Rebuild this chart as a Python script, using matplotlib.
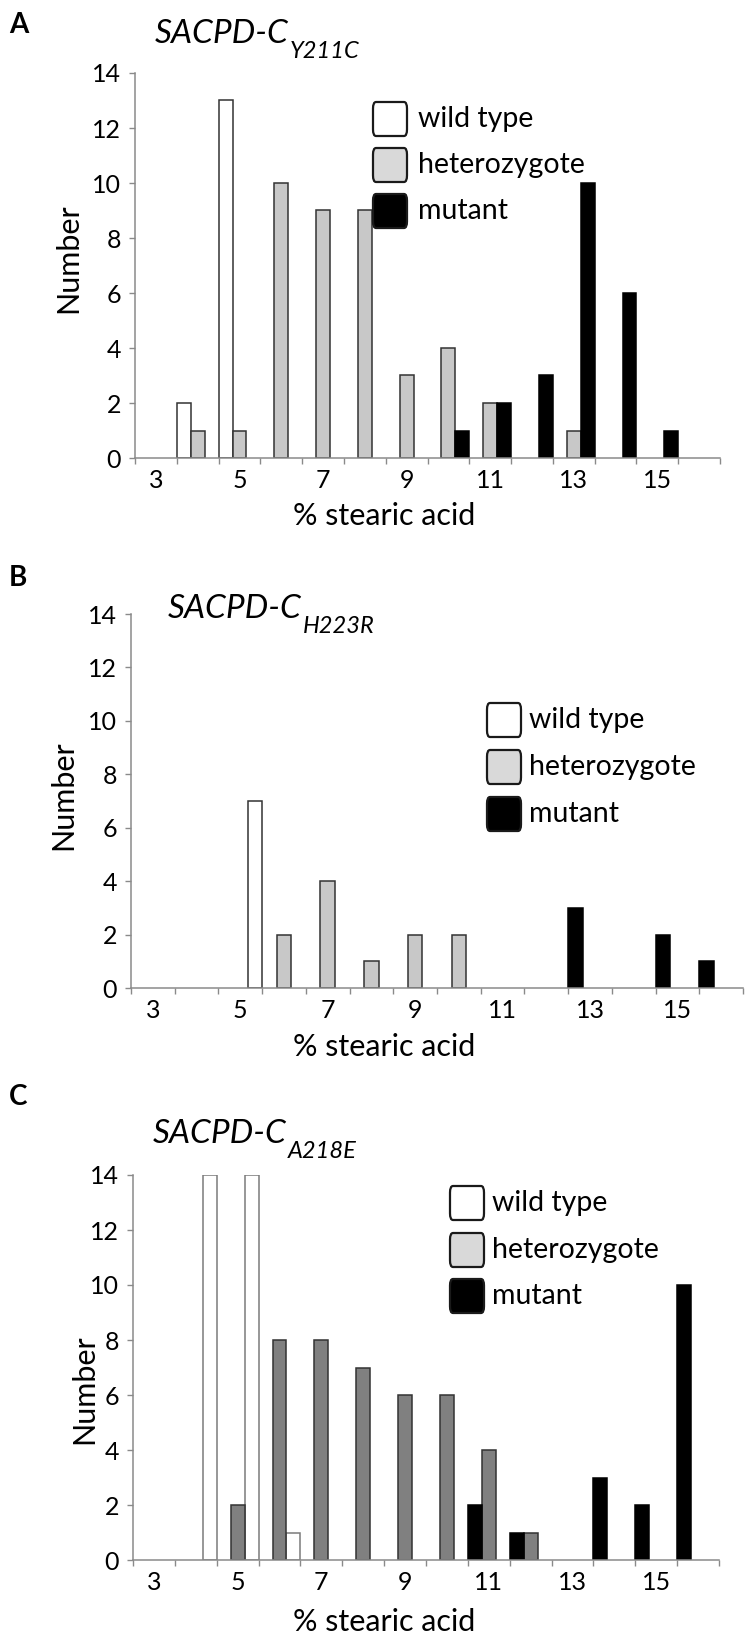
"""
Three stacked histograms: stearic acid content by genotype for three SACPD-C alleles
"""

import matplotlib.pyplot as plt
import numpy as np
from matplotlib.patches import FancyBboxPatch

plt.rcParams['font.family'] = ['Lato', 'DejaVu Sans']

W, H = 752, 1642

categories = list(range(3, 17))
tickValues = [3, 5, 7, 9, 11, 13, 15]
tickLabels = ['3', '5', '7', '9', '11', '13', '15']
legendLabels = ['wild type', 'heterozygote', 'mutant']

# panel A - Y211C
aWild = [0, 2, 13, 0, 0, 0, 0, 0, 0, 0, 0, 0, 0, 0]
aHet = [0, 1, 1, 10, 9, 9, 3, 4, 2, 0, 1, 0, 0, 0]
aMut = [0, 0, 0, 0, 0, 0, 0, 1, 2, 3, 10, 6, 1, 0]

# panel B - H223R
bWild = [0, 0, 7, 0, 0, 0, 0, 0, 0, 0, 0, 0, 0, 0]
bHet = [0, 0, 0, 2, 4, 1, 2, 2, 0, 0, 0, 0, 0, 0]
bMut = [0, 0, 0, 0, 0, 0, 0, 0, 0, 0, 3, 0, 2, 1]

# panel C - A218E
cWild = [0, 14, 14, 1, 0, 0, 0, 0, 0, 0, 0, 0, 0, 0]
cHet = [0, 0, 2, 8, 8, 7, 6, 6, 4, 1, 0, 0, 0, 0]
cMut = [0, 0, 0, 0, 0, 0, 0, 0, 2, 1, 0, 3, 2, 10]

AXIS_GRAY = '#8a8a8a'


def figX(x):
    return x / W


def figY(y):
    return 1 - y / H


def drawPanel(fig, box, series, slots, faces, edges):
    """
    Draws one clustered histogram
    :param box: left, top, right, bottom in pixels
    """
    left, top, right, bottom = box
    ax = fig.add_axes([figX(left), figY(bottom), (right - left) / W, (bottom - top) / H])
    x = np.array(categories)
    width = 1 / 3
    for values, slot, face, edge in zip(series, slots, faces, edges):
        values = np.array(values)
        keep = values > 0
        ax.bar(x[keep] + slot * width, values[keep], width=width, color=face,
               edgecolor=edge, linewidth=1.1, zorder=2)

    ax.set_xlim(2.5, 16.5)
    ax.set_ylim(0, 14)
    ax.set_yticks(range(0, 15, 2))
    ax.set_xticks(np.arange(2.5, 17, 1))
    ax.set_xticklabels([])
    ax.set_xticks(tickValues, minor=True)
    ax.set_xticklabels(tickLabels, minor=True)
    ax.tick_params(axis='x', which='major', length=4, width=1.0, color=AXIS_GRAY, direction='out')
    ax.tick_params(axis='x', which='minor', length=0, pad=8, labelsize=18)
    ax.tick_params(axis='y', length=4, width=1.0, color=AXIS_GRAY, pad=6, labelsize=18)
    for side in ['top', 'right']:
        ax.spines[side].set_visible(False)
    for side in ['left', 'bottom']:
        ax.spines[side].set_color(AXIS_GRAY)
        ax.spines[side].set_linewidth(1.1)
    ax.set_facecolor('none')
    return ax


def drawLegend(fig, left, tops, textX, faces):
    """
    Draws the legend boxes and their labels
    """
    size = 34
    for top, face, label in zip(tops, faces, legendLabels):
        patch = FancyBboxPatch((figX(left), figY(top + size)), size / W, size / H,
                               boxstyle='round,pad=0,rounding_size=0.004',
                               facecolor=face, edgecolor='#1a1a1a', linewidth=1.6,
                               transform=fig.transFigure)
        fig.add_artist(patch)
        fig.text(figX(textX), figY(top + size / 2), label, fontsize=20.5, va='center', ha='left')


fig = plt.figure(figsize=(W / 100, H / 100), dpi=100)

lightHet = '#c8c8c8'
darkHet = '#808080'
legendFaces = ['white', '#d9d9d9', 'black']

# panel A
drawPanel(fig, (135, 73, 720, 458), [aWild, aHet, aMut], [-1, 0, 1],
          ['white', lightHet, 'black'], ['#333333', '#333333', 'black'])
drawLegend(fig, 373, [102, 148, 194], 418, legendFaces)

# panel B
drawPanel(fig, (131, 614, 743, 988), [bWild, bHet, bMut], [1, 0, -1],
          ['white', lightHet, 'black'], ['#333333', '#333333', 'black'])
drawLegend(fig, 487, [703, 750, 797], 529, legendFaces)

# panel C
drawPanel(fig, (133, 1175, 719, 1560), [cWild, cHet, cMut], [1, 0, -1],
          ['white', darkHet, 'black'], ['#7a7a7a', '#333333', 'black'])
drawLegend(fig, 450, [1186, 1233, 1279], 492, legendFaces)

# titles with subscripts
titles = [(155, 43, 58, 'Y211C'), (168, 618, 633, 'H223R'), (153, 1143, 1158, 'A218E')]
fig.canvas.draw()
renderer = fig.canvas.get_renderer()
for x, baseline, subBase, sub in titles:
    main = fig.text(figX(x), figY(baseline), 'SACPD-C', fontsize=24, style='italic',
                    va='baseline', ha='left')
    ext = main.get_window_extent(renderer)
    fig.text(ext.x1 / W + 1 / W, figY(subBase), sub, fontsize=17, style='italic',
             va='baseline', ha='left')

# panel letters
for letter, y in [('A', 25), ('B', 578), ('C', 1097)]:
    fig.text(figX(9), figY(y), letter, fontsize=20, fontweight='bold', va='center', ha='left')

# axis labels
for y in [516, 1047, 1622]:
    fig.text(figX(384), figY(y), '% stearic acid', fontsize=22, va='center', ha='center')
for x, y in [(68, 258), (63, 795), (84, 1389)]:
    fig.text(figX(x), figY(y), 'Number', fontsize=22, rotation=90, va='center', ha='center')

fig.savefig('out.png', dpi=100)
